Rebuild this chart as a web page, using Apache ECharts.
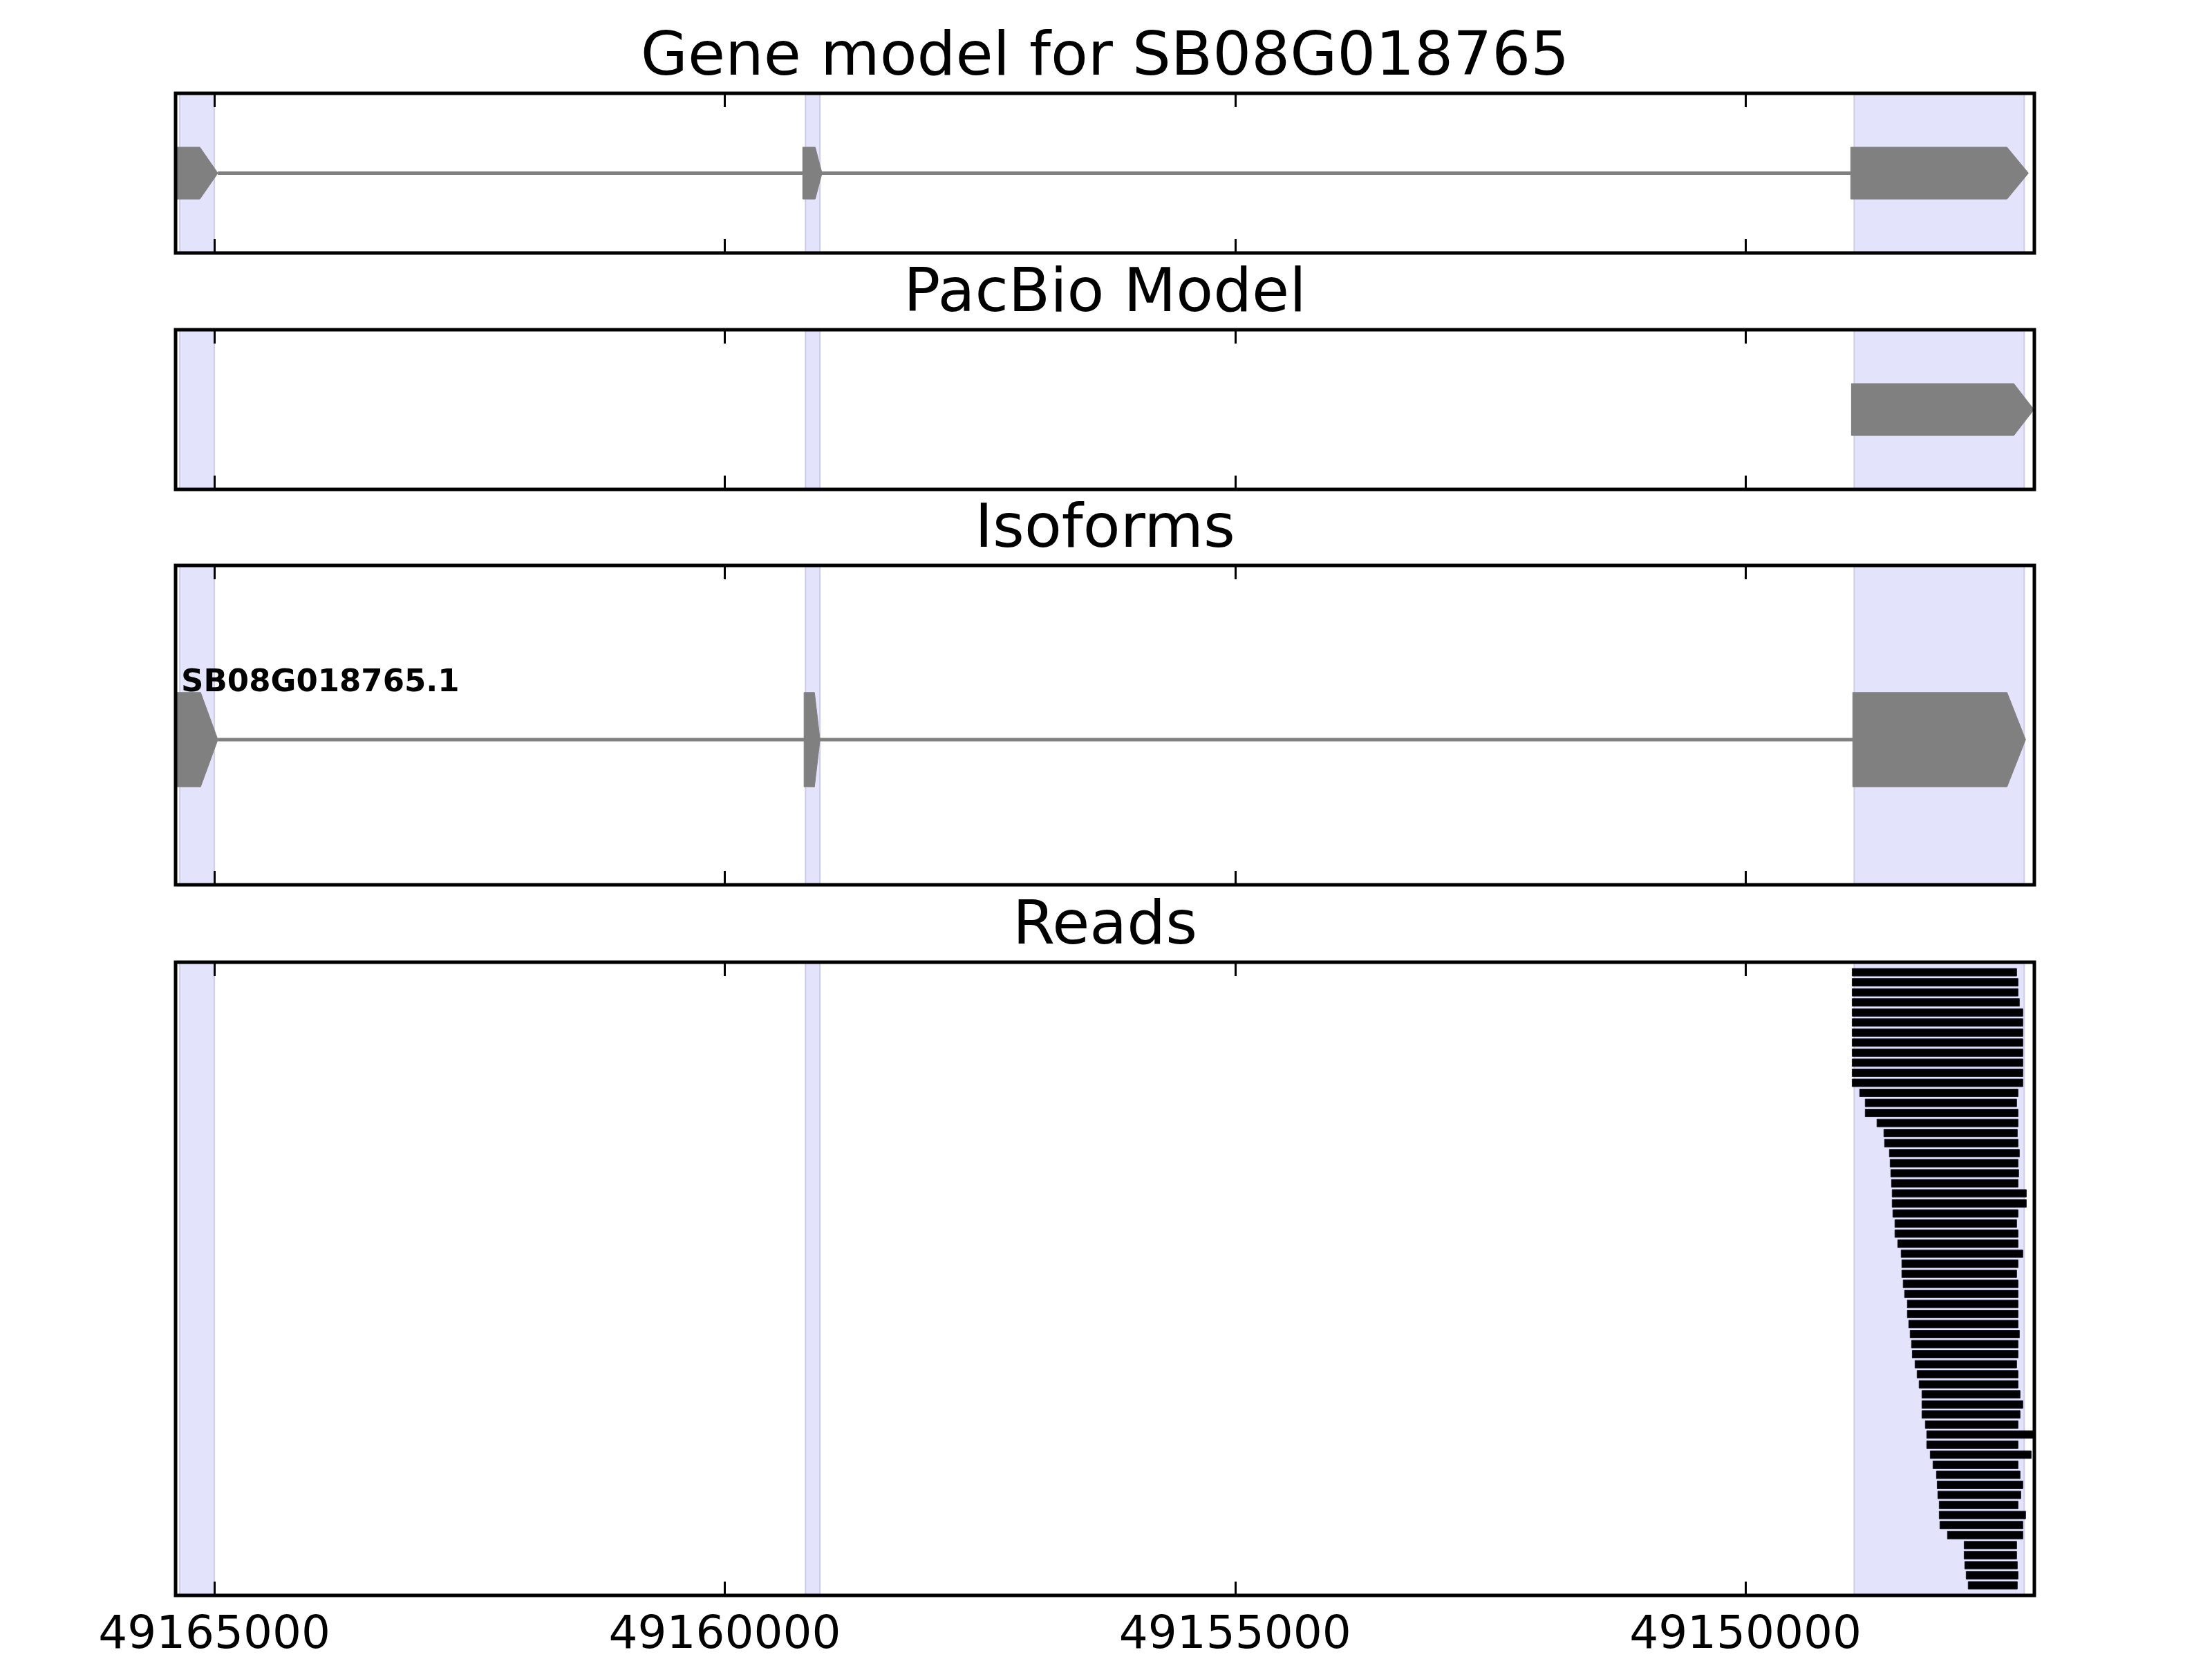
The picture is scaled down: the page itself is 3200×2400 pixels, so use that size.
<!DOCTYPE html>
<html><head><meta charset="utf-8">
<script src="https://cdn.jsdelivr.net/npm/echarts@6/dist/echarts.min.js"></script>
<style>html,body{margin:0;padding:0;background:#fff}#c{width:3200px;height:2400px}</style>
</head><body><div id="c"></div>
<script>
// ---------------- data ----------------
const panelTitles = ['Gene model for SB08G018765', 'PacBio Model', 'Isoforms', 'Reads'];
const xRange = [49147170, 49165380];
const xTickValues = [49165000, 49160000, 49155000, 49150000];
const xTickLabels = ['49165000', '49160000', '49155000', '49150000'];
// shaded exon spans of the gene model
const exonSpanStarts = [49165339, 49159209, 49148935];
const exonSpanEnds = [49165000, 49159067, 49147269];
// exon arrows: [start, shoulder of arrow head, tip]
const geneModelExons = [[49165380, 49165142, 49164966], [49159236, 49159114, 49159047], [49148969, 49147438, 49147228]];
const pacbioExons = [[49148962, 49147371, 49147174]];
const isoformName = 'SB08G018765.1';
const isoformLabelX = 49165325;
const isoformExons = [[49165380, 49165135, 49164966], [49159223, 49159121, 49159067], [49148949, 49147438, 49147256]];
// reads, top row first
const readStarts = [
  49148955, 49148955, 49148955, 49148955, 49148955, 49148955, 49148955, 49148955, 49148955, 49148955,
  49148955, 49148955, 49148881, 49148827, 49148827, 49148712, 49148644, 49148637, 49148590, 49148583,
  49148576, 49148569, 49148563, 49148563, 49148556, 49148536, 49148536, 49148508, 49148475, 49148468,
  49148468, 49148455, 49148441, 49148414, 49148414, 49148400, 49148387, 49148373, 49148366, 49148339,
  49148319, 49148299, 49148271, 49148271, 49148271, 49148238, 49148224, 49148224, 49148190, 49148163,
  49148129, 49148122, 49148115, 49148102, 49148102, 49148095, 49148021, 49147858, 49147858, 49147851,
  49147838, 49147818
];
const readEnds = [
  49147344, 49147330, 49147330, 49147317, 49147283, 49147283, 49147283, 49147283, 49147283, 49147283,
  49147283, 49147283, 49147330, 49147344, 49147330, 49147330, 49147337, 49147330, 49147317, 49147330,
  49147324, 49147330, 49147249, 49147249, 49147330, 49147344, 49147330, 49147330, 49147283, 49147330,
  49147344, 49147330, 49147330, 49147330, 49147330, 49147330, 49147317, 49147330, 49147330, 49147344,
  49147330, 49147330, 49147310, 49147283, 49147310, 49147330, 49147181, 49147330, 49147201, 49147330,
  49147310, 49147283, 49147303, 49147330, 49147256, 49147283, 49147283, 49147344, 49147344, 49147337,
  49147330, 49147337
];

// ---------------- layout / style ----------------
const FONT = 'DejaVu Sans';
const GRID_LEFT = 254, GRID_W = 2689;
const panels = [
  { top: 135, height: 231, yMin: -1, yMax: 1 },
  { top: 477, height: 231, yMin: -1, yMax: 1 },
  { top: 818, height: 462, yMin: -1, yMax: 1.2 },
  { top: 1392, height: 921, yMin: -1, yMax: 62, inverse: true }
];
const EXON_HALF = 0.325;
const GRAY = '#808080';
const SHADE = '#E3E3FC';

const grids = panels.map(p => ({
  left: GRID_LEFT, width: GRID_W, top: p.top, height: p.height,
  show: true, backgroundColor: 'transparent', borderColor: '#000', borderWidth: 5, z: 10
}));

function makeX(i, pos) {
  return {
    type: 'value', gridIndex: i, position: pos, inverse: true,
    min: xRange[0], max: xRange[1], z: 11,
    axisLine: { show: false, onZero: false }, splitLine: { show: false },
    axisTick: { show: true, inside: true, length: 20, customValues: xTickValues,
      lineStyle: { color: '#000', width: 3 } },
    axisLabel: { show: pos === 'bottom' && i === 3, customValues: xTickValues, margin: 26,
      fontSize: 66, fontFamily: FONT, color: '#000',
      formatter: v => xTickLabels[xTickValues.indexOf(v)] }
  };
}
const xAxes = [];
panels.forEach((p, i) => xAxes.push(makeX(i, 'bottom')));
panels.forEach((p, i) => xAxes.push(makeX(i, 'top')));
const yAxes = panels.map((p, i) => ({
  type: 'value', gridIndex: i, show: false, min: p.yMin, max: p.yMax, inverse: !!p.inverse,
  splitLine: { show: false }, axisLine: { onZero: false }
}));

const series = [];
// shading
panels.forEach((p, i) => {
  series.push({
    type: 'custom', xAxisIndex: i, yAxisIndex: i, clip: true, z: 1, silent: true,
    data: exonSpanStarts.map((s, k) => [s, exonSpanEnds[k]]),
    renderItem: (params, api) => {
      const a = api.coord([api.value(0), 0])[0];
      const b = api.coord([api.value(1), 0])[0];
      const cs = params.coordSys;
      return { type: 'rect', shape: { x: Math.min(a, b), y: cs.y, width: Math.abs(b - a), height: cs.height },
        style: { fill: SHADE, stroke: 'rgba(190,190,222,0.7)', lineWidth: 2 } };
    }
  });
});

function exonPolygon(api) {
  const s = api.value(0), m = api.value(1), t = api.value(2);
  const pts = [[s, EXON_HALF], [m, EXON_HALF], [t, 0], [m, -EXON_HALF], [s, -EXON_HALF]].map(q => api.coord(q));
  return { type: 'polygon', shape: { points: pts }, style: { fill: GRAY, stroke: GRAY, lineWidth: 1 } };
}

function geneSeries(i, exons) {
  // intron line
  series.push({
    type: 'custom', xAxisIndex: i, yAxisIndex: i, clip: true, z: 2, silent: true,
    data: [[exons[0][2], exons[exons.length - 1][0]]],
    renderItem: (params, api) => {
      const p1 = api.coord([api.value(0), 0]);
      const p2 = api.coord([api.value(1), 0]);
      return { type: 'line', shape: { x1: p1[0], y1: p1[1], x2: p2[0], y2: p2[1] },
        style: { stroke: GRAY, lineWidth: 5 } };
    }
  });
  series.push({
    type: 'custom', xAxisIndex: i, yAxisIndex: i, clip: true, z: 3, silent: true,
    data: exons, renderItem: (params, api) => exonPolygon(api)
  });
}
geneSeries(0, geneModelExons);
// PacBio (single exon, no intron)
series.push({
  type: 'custom', xAxisIndex: 1, yAxisIndex: 1, clip: true, z: 3, silent: true,
  data: pacbioExons, renderItem: (params, api) => exonPolygon(api)
});
geneSeries(2, isoformExons);
// isoform label
series.push({
  type: 'custom', xAxisIndex: 2, yAxisIndex: 2, clip: false, z: 4, silent: true,
  data: [[isoformLabelX, EXON_HALF]],
  renderItem: (params, api) => {
    const p = api.coord([api.value(0), api.value(1)]);
    return { type: 'text', x: p[0], y: p[1] + 9,
      style: { text: isoformName, font: 'bold 45px "' + FONT + '"', fill: '#000',
        align: 'left', verticalAlign: 'bottom' } };
  }
});
// reads
series.push({
  type: 'custom', xAxisIndex: 3, yAxisIndex: 3, clip: true, z: 3, silent: true,
  data: readStarts.map((s, k) => [s, readEnds[k], k]),
  renderItem: (params, api) => {
    const r = api.value(2);
    const a = api.coord([api.value(0), r - 0.375]);
    const b = api.coord([api.value(1), r + 0.375]);
    return { type: 'rect', shape: { x: Math.min(a[0], b[0]), y: Math.min(a[1], b[1]),
      width: Math.abs(b[0] - a[0]), height: Math.abs(b[1] - a[1]) },
      style: { fill: '#000', stroke: '#15152a', lineWidth: 1 } };
  }
});

const titles = panelTitles.map((t, i) => ({
  text: t, left: GRID_LEFT + GRID_W / 2, textAlign: 'center', top: panels[i].top - 94, padding: 0,
  textStyle: { fontSize: 88, fontFamily: FONT, fontWeight: 'normal', color: '#000' }
}));

const chart = echarts.init(document.getElementById('c'), null, { renderer: 'canvas' });
chart.setOption({
  animation: false, backgroundColor: '#fff',
  title: titles, grid: grids, xAxis: xAxes, yAxis: yAxes, series: series
});
</script></body></html>
